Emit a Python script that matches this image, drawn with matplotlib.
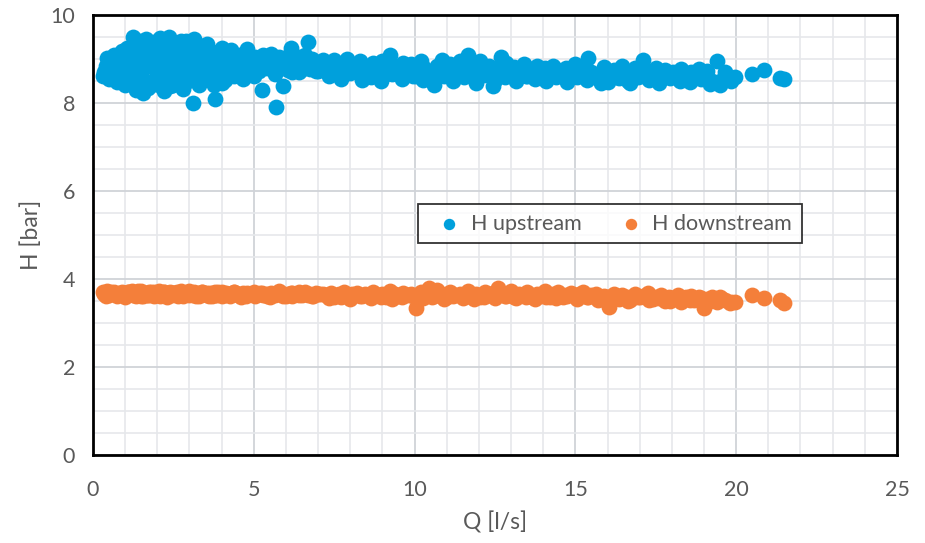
import matplotlib.pyplot as plt
import numpy as np
from matplotlib.ticker import MultipleLocator

plt.rcParams['font.family'] = ['Lato', 'DejaVu Sans']

# flow rate [l/s]
q = [0.30, 0.35, 0.45, 0.50, 0.60, 0.65, 0.75, 0.80, 0.90, 0.95,
     1.00, 1.05, 1.10, 1.15, 1.20, 1.25, 1.30, 1.35, 1.40, 1.45,
     1.50, 1.55, 1.60, 1.65, 1.70, 1.75, 1.80, 1.85, 1.90, 1.95,
     2.00, 2.05, 2.10, 2.15, 2.20, 2.25, 2.30, 2.35, 2.40, 2.45,
     2.50, 2.55, 2.60, 2.65, 2.70, 2.75, 2.80, 2.85, 2.90, 2.95,
     3.00, 3.05, 3.10, 3.15, 3.20, 3.25, 3.30, 3.40, 3.45, 3.50,
     3.55, 3.60, 3.70, 3.75, 3.80, 3.85, 3.95, 4.00, 4.10, 4.15,
     4.25, 4.30, 4.40, 4.50, 4.55, 4.65, 4.75, 4.80, 4.90, 5.00,
     5.05, 5.15, 5.25, 5.30, 5.40, 5.50, 5.55, 5.65, 5.70, 5.80,
     5.90, 5.95, 6.05, 6.15, 6.20, 6.30, 6.40, 6.50, 6.60, 6.70,
     6.75, 6.85, 6.95, 7.05, 7.15,
     7.25, 7.40, 7.50, 7.65, 7.80, 7.90, 8.05, 8.20, 8.30, 8.45,
     8.60, 8.70, 8.85, 9.00, 9.10, 9.25, 9.40, 9.50, 9.65, 9.80,
     9.90, 10.05, 10.20, 10.30, 10.45, 10.60, 10.70, 10.85, 11.00, 11.10,
     11.25, 11.40, 11.50, 11.65, 11.80, 11.90, 12.05, 12.20, 12.30, 12.45,
     12.60, 12.70, 12.85, 13.00, 13.10, 13.25, 13.40, 13.50, 13.65, 13.80,
     13.90, 14.05, 14.20, 14.30, 14.45, 14.60, 14.70, 14.85, 15.00, 15.10,
     15.25, 15.40, 15.50, 15.65, 15.80, 15.90, 16.05, 16.20, 16.30, 16.45,
     16.60, 16.70, 16.85, 17.00, 17.10, 17.25, 17.40, 17.50, 17.65, 17.80,
     17.90, 18.05, 18.20, 18.30, 18.45, 18.60, 18.70, 18.85, 19.00, 19.10,
     19.25, 19.40, 19.50, 19.65, 19.80, 19.95,
     20.50, 20.85, 21.35, 21.50,
     0.40, 0.55, 0.70, 0.85, 1.00, 1.10, 1.20, 1.30, 1.40, 1.50,
     1.60, 1.70, 1.80, 1.90, 2.00, 2.10, 2.20, 2.30, 2.40, 2.50,
     2.60, 2.70, 2.80, 2.90, 3.00, 3.10, 3.20, 3.30, 3.40, 3.50,
     3.60, 3.70, 3.80, 3.90, 4.00, 4.20, 4.40, 4.60, 4.80, 5.00,
     5.20, 5.40, 5.60, 5.80, 6.00, 6.20, 6.40, 6.60, 6.80, 7.00,
     7.35, 7.70, 8.00, 8.35, 8.65, 8.95, 9.30, 9.60, 9.95, 10.25,
     10.55, 10.90, 11.20, 11.55, 11.85, 12.15, 12.50, 12.80, 13.15, 13.45,
     13.75, 14.10, 14.40, 14.75, 15.05, 15.35, 15.70, 16.00, 16.35, 16.65,
     16.95, 17.30, 17.60, 17.95, 18.25, 18.55, 18.90, 19.20, 19.55, 19.85]

# upstream pressure [bar]
h_up = [8.62, 8.70, 9.02, 8.55, 8.80, 9.10, 8.48, 8.95, 9.18, 8.65,
        8.40, 9.25, 8.85, 8.52, 9.30, 9.50, 8.72, 8.30, 9.05, 9.42,
        8.60, 8.22, 9.15, 9.45, 8.35, 8.90, 9.28, 8.50, 9.38, 8.78,
        9.20, 8.42, 9.48, 8.95, 8.28, 9.35, 8.62, 9.50, 8.38, 9.08,
        8.75, 9.32, 8.45, 9.12, 8.55, 9.40, 8.32, 8.98, 9.42, 8.50,
        8.85, 9.25, 8.00, 9.45, 8.68, 9.10, 8.40, 9.30, 8.58, 9.05,
        9.35, 8.60, 9.15, 8.40, 8.10, 9.05, 8.70, 9.25, 8.52, 9.00,
        8.75, 9.20, 8.62, 8.95, 9.10, 8.55, 8.85, 9.22, 8.68, 8.98,
        9.05, 8.72, 8.30, 9.08, 8.80, 8.92, 9.12, 8.65, 7.90, 8.88,
        8.38, 9.02, 8.75, 9.25, 8.82, 9.00, 8.70, 8.92, 9.10, 9.38,
        8.78, 8.95, 8.72, 8.85, 8.98,
        8.92, 8.75, 8.98, 8.82, 8.70, 9.00, 8.85, 8.72, 8.95, 8.80,
        8.68, 8.90, 8.78, 8.95, 8.65, 9.08, 8.82, 8.70, 8.92, 8.75,
        8.88, 8.62, 8.95, 8.80, 8.70, 8.40, 8.85, 8.98, 8.72, 8.88,
        8.78, 8.95, 8.65, 9.10, 8.82, 8.45, 8.95, 8.70, 8.85, 8.38,
        8.75, 9.05, 8.90, 8.68, 8.82, 8.72, 8.88, 8.62, 8.78, 8.85,
        8.70, 8.80, 8.66, 8.85, 8.75, 8.62, 8.80, 8.72, 8.88, 8.65,
        8.78, 9.02, 8.70, 8.60, 8.45, 8.82, 8.68, 8.75, 8.58, 8.85,
        8.70, 8.45, 8.80, 8.62, 8.98, 8.72, 8.60, 8.80, 8.68, 8.75,
        8.58, 8.70, 8.62, 8.78, 8.55, 8.70, 8.65, 8.78, 8.60, 8.72,
        8.50, 8.95, 8.42, 8.70, 8.60, 8.58,
        8.65, 8.75, 8.57, 8.55,
        8.85, 8.62, 9.00, 8.75, 8.95, 8.60, 9.10, 8.88, 8.55, 9.22,
        8.80, 9.05, 8.40, 9.00, 8.70, 9.20, 8.90, 9.10, 8.78, 8.42,
        9.05, 8.85, 9.20, 8.68, 9.10, 8.82, 9.02, 8.55, 9.00, 8.80,
        8.95, 8.72, 8.90, 9.15, 8.45, 8.90, 9.05, 8.72, 9.00, 8.62,
        8.90, 9.02, 8.78, 9.05, 8.95, 8.70, 9.05, 8.80, 9.00, 8.72,
        8.62, 8.55, 8.68, 8.52, 8.60, 8.50, 8.65, 8.55, 8.62, 8.52,
        8.58, 8.62, 8.50, 8.60, 8.56, 8.64, 8.52, 8.58, 8.50, 8.62,
        8.55, 8.50, 8.60, 8.48, 8.58, 8.52, 8.62, 8.48, 8.56, 8.50,
        8.58, 8.52, 8.45, 8.56, 8.50, 8.48, 8.55, 8.44, 8.52, 8.50]

# downstream pressure [bar]
h_down = [3.70, 3.66, 3.72, 3.64, 3.68, 3.70, 3.62, 3.67, 3.71, 3.65,
          3.69, 3.63, 3.70, 3.66, 3.72, 3.64, 3.68, 3.61, 3.70, 3.66,
          3.73, 3.62, 3.67, 3.69, 3.64, 3.71, 3.66, 3.63, 3.70, 3.68,
          3.65, 3.72, 3.62, 3.67, 3.70, 3.64, 3.68, 3.66, 3.71, 3.63,
          3.69, 3.65, 3.70, 3.62, 3.67, 3.72, 3.64, 3.68, 3.66, 3.70,
          3.63, 3.69, 3.65, 3.71, 3.62, 3.67, 3.64, 3.70, 3.66, 3.68,
          3.64, 3.69, 3.62, 3.67, 3.70, 3.63, 3.66, 3.71, 3.64, 3.68,
          3.62, 3.67, 3.70, 3.63, 3.66, 3.69, 3.61, 3.68, 3.65, 3.70,
          3.62, 3.66, 3.69, 3.63, 3.67, 3.60, 3.68, 3.64, 3.66, 3.70,
          3.62, 3.67, 3.65, 3.69, 3.61, 3.66, 3.70, 3.63, 3.68, 3.64,
          3.67, 3.62, 3.69, 3.65, 3.66,
          3.63, 3.68, 3.60, 3.66, 3.70, 3.62, 3.65, 3.69, 3.61, 3.67,
          3.63, 3.70, 3.64, 3.66, 3.60, 3.72, 3.65, 3.62, 3.68, 3.63,
          3.66, 3.35, 3.70, 3.64, 3.80, 3.62, 3.75, 3.66, 3.58, 3.70,
          3.63, 3.67, 3.56, 3.72, 3.62, 3.66, 3.60, 3.70, 3.64, 3.68,
          3.80, 3.68, 3.62, 3.72, 3.60, 3.66, 3.63, 3.70, 3.58, 3.67,
          3.62, 3.72, 3.60, 3.66, 3.70, 3.58, 3.64, 3.68, 3.61, 3.65,
          3.70, 3.58, 3.63, 3.66, 3.55, 3.62, 3.37, 3.66, 3.58, 3.64,
          3.60, 3.52, 3.66, 3.58, 3.62, 3.68, 3.55, 3.60, 3.64, 3.50,
          3.60, 3.56, 3.63, 3.48, 3.58, 3.62, 3.52, 3.60, 3.35, 3.55,
          3.58, 3.48, 3.60, 3.52, 3.45, 3.48,
          3.64, 3.57, 3.52, 3.45,
          3.62, 3.71, 3.65, 3.68, 3.60, 3.70, 3.66, 3.63, 3.72, 3.61,
          3.67, 3.64, 3.70, 3.62, 3.68, 3.65, 3.71, 3.60, 3.66, 3.69,
          3.63, 3.70, 3.61, 3.67, 3.72, 3.64, 3.68, 3.62, 3.70, 3.65,
          3.61, 3.68, 3.64, 3.71, 3.62, 3.66, 3.70, 3.60, 3.67, 3.63,
          3.69, 3.61, 3.66, 3.72, 3.62, 3.68, 3.64, 3.70, 3.61, 3.66,
          3.56, 3.60, 3.55, 3.62, 3.57, 3.60, 3.55, 3.58, 3.62, 3.56,
          3.60, 3.55, 3.62, 3.58, 3.55, 3.60, 3.56, 3.62, 3.57, 3.60,
          3.55, 3.60, 3.57, 3.62, 3.55, 3.58, 3.52, 3.60, 3.55, 3.50,
          3.58, 3.53, 3.57, 3.50, 3.55, 3.52, 3.56, 3.50, 3.54, 3.48]

blue = '#00A0DC'
orange = '#F47F3A'
txt = '#595959'

fig = plt.figure(figsize=(9.25, 5.43), dpi=100)
ax = fig.add_axes([0.1005, 0.162, 0.8692, 0.8104])

ax.scatter(q, h_up, s=130, color=blue, linewidths=0, label='H upstream', zorder=3)
ax.scatter(q, h_down, s=130, color=orange, linewidths=0, label='H downstream', zorder=3)

ax.set_xlim(0, 25)
ax.set_ylim(0, 10)
ax.xaxis.set_major_locator(MultipleLocator(5))
ax.xaxis.set_minor_locator(MultipleLocator(1))
ax.yaxis.set_major_locator(MultipleLocator(2))
ax.yaxis.set_minor_locator(MultipleLocator(0.5))
ax.grid(which='major', color='#D0D3D8', linewidth=1.3, zorder=0)
ax.grid(which='minor', color='#E6E8EB', linewidth=1.2, zorder=0)
ax.set_axisbelow(True)
ax.tick_params(which='both', length=0, labelsize=15.5, colors=txt)
ax.tick_params(axis='x', pad=18)
ax.tick_params(axis='y', pad=13)
for s in ax.spines.values():
    s.set_linewidth(2)
    s.set_color('black')

ax.set_xlabel('Q [l/s]', fontsize=16.5, color=txt, labelpad=8)
ax.set_ylabel('H [bar]', fontsize=16.5, color=txt, labelpad=6)

leg = ax.legend(loc='center', bbox_to_anchor=(0.643, 0.526), ncol=2, fontsize=15.5,
                frameon=True, fancybox=False, handletextpad=0.0, columnspacing=1.3,
                borderpad=0.45, markerscale=0.72)
leg.get_frame().set_edgecolor('black')
leg.get_frame().set_linewidth(1.3)
for t in leg.get_texts():
    t.set_color(txt)

fig.savefig('out.png', dpi=100)
